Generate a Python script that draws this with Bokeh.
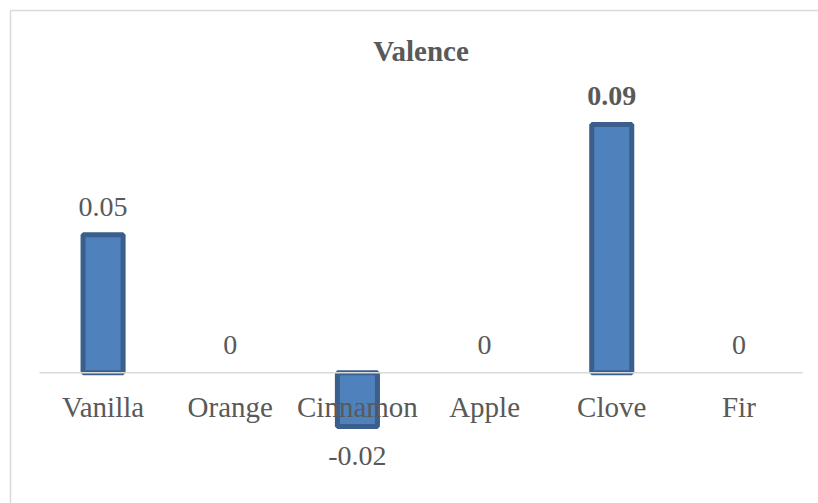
from bokeh.plotting import figure
from bokeh.models import ColumnDataSource, Range1d, CDSView, BooleanFilter
from bokeh.core.properties import value
from bokeh.embed import file_html
from bokeh.resources import INLINE

# ---- data ----
title_text = "Valence"
categories = ["Vanilla", "Orange", "Cinnamon", "Apple", "Clove", "Fir"]
valence = [0.05, 0.0, -0.0195, 0.0, 0.09, 0.0]
highlighted = "Clove"

# ---- layout constants (pixels) ----
W, H = 818, 503
border_left, border_top = 10, 10
axis_left, axis_right = 39, 802
zero_y = 372.3
px_per_unit = 2760.0

n = len(categories)
cat_w = (axis_right - axis_left) / n
x_start = (0 - axis_left) / cat_w
x_end = (W - axis_left) / cat_w
y_end = zero_y / px_per_unit
y_start = -(H - zero_y) / px_per_unit
bx = (border_left - axis_left) / cat_w
by = (zero_y - border_top) / px_per_unit

FONT = "Liberation Serif"
GRAY = "#595959"

def fmt(v):
    s = f"{v:.2f}"
    if "." in s:
        s = s.rstrip("0").rstrip(".")
    if s in ("-0", ""):
        s = "0"
    return s

xs = [i + 0.5 for i in range(n)]
lab_offset = [-28 if v >= 0 else 29 for v in valence]
lab_weight = ["bold" if c == highlighted else "normal" for c in categories]

src = ColumnDataSource(dict(
    x=xs, cat=categories, val=valence,
    lab=[fmt(v) for v in valence], off=lab_offset, weight=lab_weight,
    zero=[0.0] * n,
))
nonzero = CDSView(filter=BooleanFilter([v != 0 for v in valence]))

p = figure(width=W, height=H, output_backend="svg", toolbar_location=None,
           x_range=Range1d(x_start, x_end), y_range=Range1d(y_start, y_end),
           min_border_left=0, min_border_top=0,
           min_border_right=0, min_border_bottom=0)
p.axis.visible = False
p.grid.visible = False
p.outline_line_color = None
p.background_fill_color = "white"
p.border_fill_color = "white"

# chart-area border (left and top edges visible)
p.segment(x0=[bx, bx], x1=[bx, x_end + 1], y0=[y_start - 1, by], y1=[by, by],
          line_color="#d9d9d9", line_width=1.5)

# bars
p.vbar(x="x", top="val", bottom=0, width=0.315, source=src, view=nonzero,
       fill_color="#4f81bd", line_color="#3a5f8c", line_width=5)

# zero axis line (drawn over bars)
p.segment(x0=[0], x1=[n], y0=[0], y1=[0], line_color="#d9d9d9", line_width=1.5)

# category labels
p.text(x="x", y="zero", text="cat", source=src, text_align="center",
       text_baseline="alphabetic", y_offset=34,
       text_font=value(FONT), text_font_size="29px", text_color=GRAY)

# value labels
p.text(x="x", y="val", text="lab", source=src, text_align="center",
       text_baseline="alphabetic", y_offset="off", text_font_style="weight",
       text_font=value(FONT), text_font_size="28px", text_color=GRAY)

# title
p.text(x=[n / 2], y=[by], text=[title_text], text_align="center",
       text_baseline="alphabetic", y_offset=40,
       text_font=value(FONT), text_font_size="29px", text_font_style="bold",
       text_color=GRAY)

open("out.html", "w").write(file_html(p, INLINE))
